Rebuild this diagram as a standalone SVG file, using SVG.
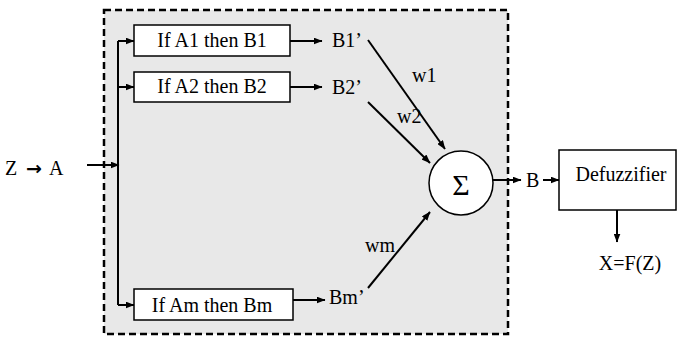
<svg xmlns="http://www.w3.org/2000/svg" width="678" height="337" viewBox="0 0 678 337">
<defs>
<marker id="ah" markerWidth="9" markerHeight="7" refX="8.5" refY="3.5" orient="auto" markerUnits="userSpaceOnUse">
<path d="M0,0 L9,3.5 L0,7 Z" fill="#000"/>
</marker>
<style>
.t{font-family:"Liberation Serif","Times New Roman",serif;font-size:20px;fill:#000}
.box{fill:#fff;stroke:#000;stroke-width:1.5}
.ln{stroke:#000;stroke-width:2;fill:none}
.ar{stroke:#000;stroke-width:2;fill:none;marker-end:url(#ah)}
</style>
</defs>
<rect width="678" height="337" fill="#fff"/>
<g id="frame">
<rect x="104" y="10" width="404" height="324" fill="#e8e8e8" stroke="#000" stroke-width="2.5" stroke-dasharray="7,4"/>
</g>
<g id="connectors">
<line class="ar" x1="87" y1="165" x2="119" y2="165"/>
<polyline class="ln" points="118,41 118,305"/>
<line class="ar" x1="118" y1="41" x2="134" y2="41"/>
<line class="ar" x1="118" y1="87" x2="134" y2="87"/>
<line class="ar" x1="118" y1="305" x2="134" y2="305"/>
<line class="ar" x1="290" y1="41" x2="322" y2="41"/>
<line class="ar" x1="290" y1="87" x2="322" y2="87"/>
<line class="ar" x1="293" y1="300" x2="325" y2="300"/>
<line class="ar" x1="368" y1="40" x2="445" y2="149"/>
<line class="ar" x1="368" y1="102" x2="430" y2="163"/>
<line class="ar" x1="368" y1="288" x2="430" y2="212"/>
<line class="ar" x1="493" y1="180" x2="521" y2="180"/>
<line class="ar" x1="543" y1="180" x2="559" y2="180"/>
<line class="ar" x1="617" y1="210" x2="617" y2="242"/>
</g>
<g id="input"><text class="t" x="5" y="175">Z <tspan x="26" style="font-family:'DejaVu Sans',sans-serif;font-size:19px;font-weight:bold">→</tspan><tspan x="49">A</tspan></text></g>
<g id="rule1"><rect class="box" x="134" y="25" width="156" height="31"/><text class="t" x="212" y="47" text-anchor="middle">If A1 then B1</text></g>
<g id="rule2"><rect class="box" x="134" y="72" width="156" height="30"/><text class="t" x="212" y="93" text-anchor="middle">If A2 then B2</text></g>
<g id="rulem"><rect class="box" x="134" y="289" width="159" height="31"/><text class="t" x="212" y="312" text-anchor="middle">If Am then Bm</text></g>
<g id="b1"><text class="t" x="332" y="47">B1’</text></g>
<g id="b2"><text class="t" x="332" y="94">B2’</text></g>
<g id="bm"><text class="t" x="329" y="304">Bm’</text></g>
<g id="w1"><text class="t" x="412" y="82">w1</text></g>
<g id="w2"><text class="t" x="397" y="123">w2</text></g>
<g id="wm"><text class="t" x="365" y="252">wm</text></g>
<g id="sum"><circle cx="461" cy="183" r="32" fill="#fff" stroke="#000" stroke-width="1.5"/><text class="t" x="461" y="195" text-anchor="middle" style="font-size:30px">Σ</text></g>
<g id="b"><text class="t" x="526" y="187">B</text></g>
<g id="defuzz"><rect class="box" x="559" y="150" width="117" height="60"/><text class="t" x="621" y="181" text-anchor="middle">Defuzzifier</text></g>
<g id="out"><text class="t" x="630" y="270" text-anchor="middle">X=F(Z)</text></g>
</svg>
